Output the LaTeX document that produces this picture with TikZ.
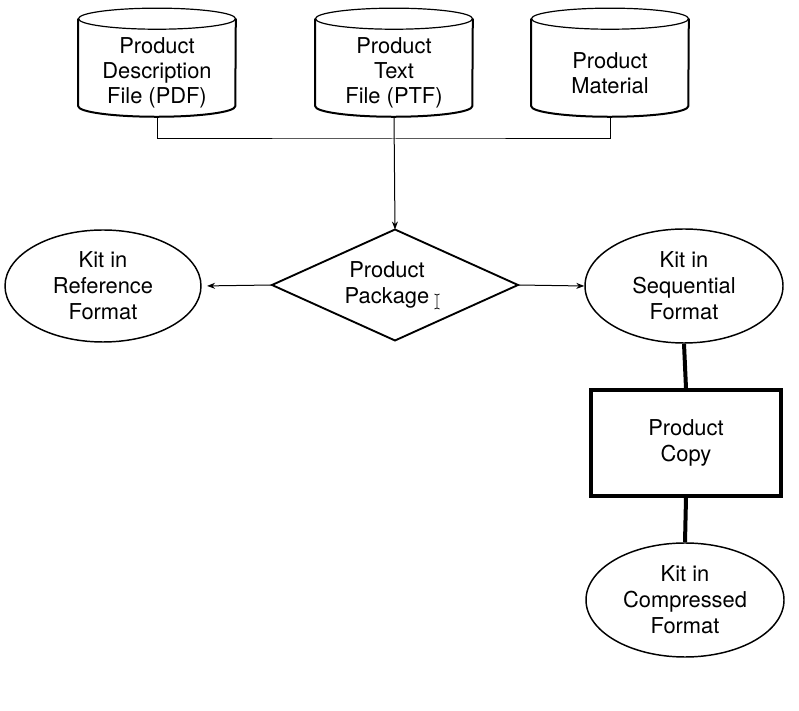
\documentclass[tikz,border=0pt]{standalone}
\usepackage{fontspec}
\setmainfont{TeX Gyre Heros}
\usetikzlibrary{shapes.geometric,arrows.meta}
\newcommand\drawcyl[1]{%
  \draw[line width=0.9pt] ([yshift=7.9pt]#1.north) ellipse [x radius=58.9pt, y radius=7.9pt];
  \draw[cylside] ([yshift=7.9pt]#1.north west) -- ([yshift=7.9pt]#1.south west)
     arc[start angle=180, end angle=360, x radius=58.9pt, y radius=7.9pt]
     -- ([yshift=7.9pt]#1.north east);
}
\tikzset{
  lbl/.style={align=center, font=\fontsize{16.4}{19.6}\selectfont, text=black},
  cylnode/.style={lbl, font=\fontsize{16.4}{18.75}\selectfont, rectangle, minimum width=117.8pt, minimum height=65.25pt, inner sep=0pt},
  cylside/.style={line width=1.5pt, line join=round},
  oval/.style={lbl, ellipse, draw, line width=1.1pt, inner sep=0pt},
  thinline/.style={line width=0.75pt},
  arr/.style={thinline, -{Stealth[length=6pt,width=4.5pt]}},
  thickline/.style={line width=3pt},
}
\begin{document}
\begin{tikzpicture}[x=0.75pt, y=0.75pt]
\useasboundingbox (0,0) rectangle (799,710);
% cylinders
\node[cylnode] (c1) at (157,637) {Product\\Description\\File (PDF)};
\node[cylnode] (c2) at (394,637) {Product\\Text\\File (PTF)};
\node[cylnode] (c3) at (610,637) {Product\\Material};
\drawcyl{c1}
\drawcyl{c2}
\drawcyl{c3}
% diamond
\node[lbl, diamond, aspect=2.2, draw, line width=1.4pt, minimum width=184.5pt, minimum height=83.25pt, inner sep=0pt, outer sep=0pt] (d) at (395,425) {Product\hspace*{12pt}\\Package\hspace*{12pt}};
% ellipses
\node[oval, minimum width=147pt, minimum height=84pt] (e1) at (103,424) {Kit in\\Reference\\Format};
\node[oval, minimum width=148.5pt, minimum height=85.5pt] (e2) at (684,424) {Kit in\\Sequential\\Format};
\node[lbl, rectangle, draw, line width=2.6pt, minimum width=142.5pt, minimum height=79.5pt] (r) at (686,267) {Product\\Copy};
\node[oval, minimum width=148.5pt, minimum height=85.5pt] (e3) at (685,110) {Kit in\\Compressed\\Format};
% connectors
\coordinate (bus) at (394,571);
\draw[thinline] (c1.south) |- (bus) -| (c3.south);
\draw[arr] (c2.south) -- (d.north);
\draw[arr, shorten >=4pt] (d.west) -- (e1.east);
\draw[arr] (d.east) -- (e2.west);
\draw[thickline] (e2.south) -- (r.north);
\draw[thickline] (r.south) -- (e3.north);
% text cursor
\draw[line width=0.6pt] (437,415) -- (437,402)
  (434.5,416) .. controls (436,416) .. (437,415) .. controls (438,416) .. (439.5,416)
  (434.5,401) .. controls (436,401) .. (437,402) .. controls (438,401) .. (439.5,401);
\end{tikzpicture}
\end{document}
